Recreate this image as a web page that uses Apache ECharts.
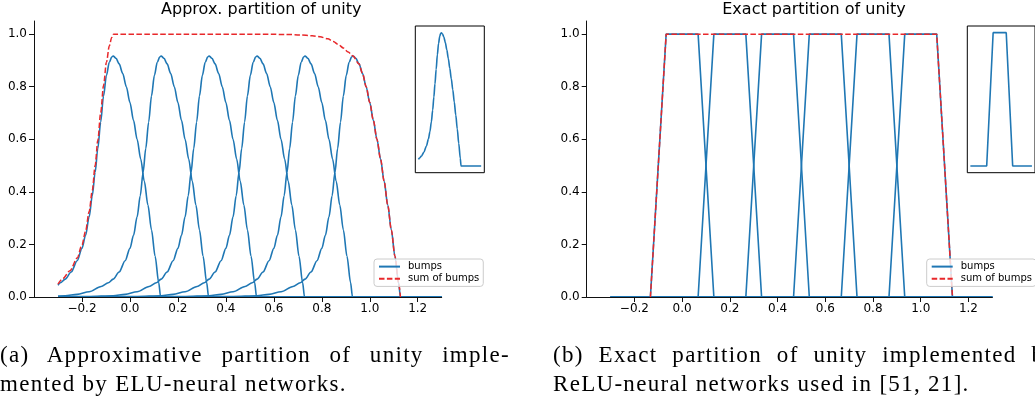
<!DOCTYPE html>
<html>
<head>
<meta charset="utf-8">
<script src="https://cdn.jsdelivr.net/npm/echarts@6/dist/echarts.min.js"></script>
<style>
html, body { margin: 0; padding: 0; overflow: hidden; background: #fff; width: 1035px; height: 404px; }
#chart { position: absolute; left: 0; top: 0; width: 1035px; height: 404px; }
.cap { position: absolute; font-family: 'Liberation Serif', serif; font-size: 23px; line-height: 29px;
       letter-spacing: 1.3px; color: #000; white-space: nowrap; }
.just { text-align: justify; text-align-last: justify; white-space: normal; }
</style>
</head>
<body>
<div id="chart"></div>
<div class="cap just" style="left:0px; top:340px; width:510px;">(a) Approximative partition of unity imple-</div>
<div class="cap" style="left:0px; top:369px;">mented by ELU-neural networks.</div>
<div class="cap just" style="left:553px; top:340px; width:504px;">(b) Exact partition of unity implemented by</div>
<div class="cap" style="left:553px; top:369px;">ReLU-neural networks used in [51, 21].</div>
<script>
// ---------------- data ----------------
const xTicks = [-0.2, 0.0, 0.2, 0.4, 0.6, 0.8, 1.0, 1.2];
const yTicks = [0.0, 0.2, 0.4, 0.6, 0.8, 1.0];
const xStart = -0.3;
const xEnd = 1.3;

// ELU bumps: peak positions and common bump profile (offset from peak, value)
const eluPeaks = [-0.07, 0.13, 0.33, 0.53, 0.73, 0.93];
const eluStartY = [0.045, 0.004, 0.001, 0.0, 0.0, 0.0]; // value of each bump at x = -0.3
const profileDx = [-1.30, -0.70, -0.50, -0.40, -0.35, -0.30, -0.25, -0.22, -0.20, -0.175, -0.15, -0.13, -0.115,
                   -0.10, -0.087, -0.075, -0.064, -0.052, -0.040, -0.028, -0.016, -0.006, 0.0,
                   0.012, 0.025, 0.040, 0.055, 0.070, 0.085, 0.10, 0.115, 0.13, 0.145, 0.16, 0.175, 0.19, 0.198];
const profileY  = [0.0, 0.0005, 0.002, 0.005, 0.01, 0.02, 0.04, 0.054, 0.068, 0.095, 0.138, 0.185, 0.235,
                   0.305, 0.385, 0.475, 0.565, 0.665, 0.765, 0.843, 0.893, 0.913, 0.917,
                   0.908, 0.887, 0.85, 0.80, 0.74, 0.672, 0.60, 0.525, 0.44, 0.35, 0.255, 0.155, 0.055, 0.0];

// sum of ELU bumps
const eluSumX = [-0.3, -0.28, -0.25, -0.22, -0.2, -0.185, -0.17, -0.157, -0.145, -0.134, -0.122, -0.11,
                 -0.098, -0.086, -0.076, -0.068, 0.2, 0.5, 0.65, 0.709, 0.76, 0.793, 0.825, 0.848, 0.87,
                 0.89, 0.91, 0.93, 0.955, 0.97, 0.985, 1.0, 1.015, 1.03, 1.045, 1.06, 1.075, 1.09, 1.105,
                 1.12, 1.128];
const eluSumY = [0.049, 0.07, 0.10, 0.148, 0.198, 0.25, 0.325, 0.405, 0.5, 0.595, 0.70, 0.805,
                 0.893, 0.955, 0.987, 1.0, 1.0, 1.0, 0.999, 0.997, 0.994, 0.99, 0.982, 0.972, 0.96,
                 0.947, 0.932, 0.917, 0.887, 0.85, 0.80, 0.74, 0.672, 0.60, 0.525, 0.44, 0.35, 0.255, 0.155,
                 0.055, 0.0];

// ReLU (exact) bumps: trapezoid knots
const reluRiseStart = [-0.133, 0.067, 0.267, 0.467, 0.667, 0.867];
const reluTopStart  = [-0.067, 0.133, 0.333, 0.533, 0.733, 0.933];
const reluTopEnd    = [0.067, 0.267, 0.467, 0.667, 0.867, 1.067];
const reluFallEnd   = [0.133, 0.333, 0.533, 0.733, 0.933, 1.133];
const reluSumX = [-0.133, -0.067, 1.067, 1.133];
const reluSumY = [0.0, 1.0, 1.0, 0.0];

const insetEnd = 0.33;

// ---------------- build ----------------
const BLUE = '#1f77b4';
const RED = '#e8282b';
const FONT = 'DejaVu Sans';

function eluBump(k, xmax) {
  const p = eluPeaks[k];
  const pts = [[xStart, eluStartY[k]]];
  for (let i = 0; i < profileDx.length; i++) {
    const x = +(p + profileDx[i]).toFixed(4);
    if (x > xStart && x < xmax) pts.push([x, profileY[i]]);
  }
  pts.push([xmax, 0]);
  return pts;
}
function reluBump(k, xmax) {
  const pts = [[xStart, 0], [reluRiseStart[k], 0], [reluTopStart[k], 1], [reluTopEnd[k], 1], [reluFallEnd[k], 0]];
  pts.push([xmax, 0]);
  return pts;
}
const zip = (a, b) => a.map((v, i) => [v, b[i]]);
const fmt = v => (v < 0 ? '\u2212' : '') + Math.abs(v).toFixed(1);

function mainX(idx) {
  return {
    type: 'value', gridIndex: idx, min: -0.4, max: 1.3, z: 3,
    splitLine: { show: false },
    axisLine: { show: true, onZero: false, lineStyle: { color: '#111', width: 1 } },
    axisTick: { show: true, length: 5, lineStyle: { color: '#111', width: 1 }, customValues: xTicks },
    axisLabel: { customValues: xTicks, formatter: fmt, fontFamily: FONT, fontSize: 12, color: '#000', margin: 6 }
  };
}
function mainY(idx) {
  return {
    type: 'value', gridIndex: idx, min: 0, max: 1.05, z: 3,
    splitLine: { show: false },
    axisLine: { show: true, onZero: false, lineStyle: { color: '#111', width: 1 } },
    axisTick: { show: true, length: 5, lineStyle: { color: '#111', width: 1 }, customValues: yTicks },
    axisLabel: { customValues: yTicks, formatter: fmt, fontFamily: FONT, fontSize: 12, color: '#000', margin: 7 }
  };
}
function insetX(idx) {
  return { type: 'value', gridIndex: idx, min: -0.3315, max: 0.3615, show: false, splitLine: { show: false } };
}
function insetY(idx, lo, hi) {
  return { type: 'value', gridIndex: idx, min: lo, max: hi, show: false, splitLine: { show: false } };
}
function line(name, data, xi, color, dashed, smooth) {
  return {
    type: 'line', name: name, data: data, xAxisIndex: xi, yAxisIndex: xi,
    symbol: 'none', showSymbol: false, clip: false, silent: true, animation: false,
    smooth: smooth ? 0.3 : false, smoothMonotone: smooth ? 'x' : undefined,
    itemStyle: { color: color },
    lineStyle: { color: color, width: dashed ? 1.5 : 1.6, type: dashed ? [5.5, 2.4] : 'solid' },
    emphasis: { disabled: true }, z: dashed ? 4 : 2
  };
}

const series = [];
for (let k = 0; k < eluPeaks.length; k++) series.push(line('bumps', eluBump(k, xEnd), 0, BLUE, false, true));
series.push(line('sum of bumps', zip(eluSumX, eluSumY), 0, RED, true, true));
series.push(line('inset ELU bump', eluBump(0, insetEnd), 1, BLUE, false, true));
for (let k = 0; k < reluRiseStart.length; k++) series.push(line('bumps', reluBump(k, xEnd), 2, BLUE, false, false));
series.push(line('sum of bumps', zip(reluSumX, reluSumY), 2, RED, true, false));
series.push(line('inset ReLU bump', reluBump(0, insetEnd), 3, BLUE, false, false));

function legend(left) {
  return {
    data: ['bumps', 'sum of bumps'], left: left, top: 259, orient: 'vertical',
    itemWidth: 21, itemHeight: 14, itemGap: 1, padding: [2, 4, 2, 4],
    borderColor: '#cccccc', borderWidth: 1, borderRadius: 3,
    backgroundColor: 'rgba(255,255,255,0.8)', selectedMode: false, z: 10,
    itemStyle: { color: 'rgba(0,0,0,0)', borderWidth: 0, opacity: 0 },
    textStyle: { fontFamily: FONT, fontSize: 10, color: '#000', padding: [0, 0, 0, 3] }
  };
}

const option = {
  animation: false,
  backgroundColor: '#fff',
  title: [
    { text: 'Approx. partition of unity', left: 261.3, top: 2, textAlign: 'center', padding: 0,
      textStyle: { fontFamily: FONT, fontSize: 16, fontWeight: 'normal', color: '#000' } },
    { text: 'Exact partition of unity', left: 814, top: 2, textAlign: 'center', padding: 0,
      textStyle: { fontFamily: FONT, fontSize: 16, fontWeight: 'normal', color: '#000' } }
  ],
  legend: [legend(374), legend(926.7)],
  grid: [
    { left: 34, top: 21, width: 407.7, height: 276 },
    { left: 415.3, top: 26, width: 69, height: 146.7, show: true, borderColor: '#000', borderWidth: 1, backgroundColor: 'rgba(0,0,0,0)' },
    { left: 586.7, top: 21, width: 405.6, height: 276 },
    { left: 967.3, top: 26, width: 69, height: 146.7, show: true, borderColor: '#000', borderWidth: 1, backgroundColor: 'rgba(0,0,0,0)' }
  ],
  xAxis: [mainX(0), insetX(1), mainX(2), insetX(3)],
  yAxis: [mainY(0), insetY(1, -0.0459, 0.963), mainY(2), insetY(3, -0.05, 1.05)],
  series: series
};

const chart = echarts.init(document.getElementById('chart'), null, { renderer: 'canvas' });
chart.setOption(option);
</script>
</body>
</html>
